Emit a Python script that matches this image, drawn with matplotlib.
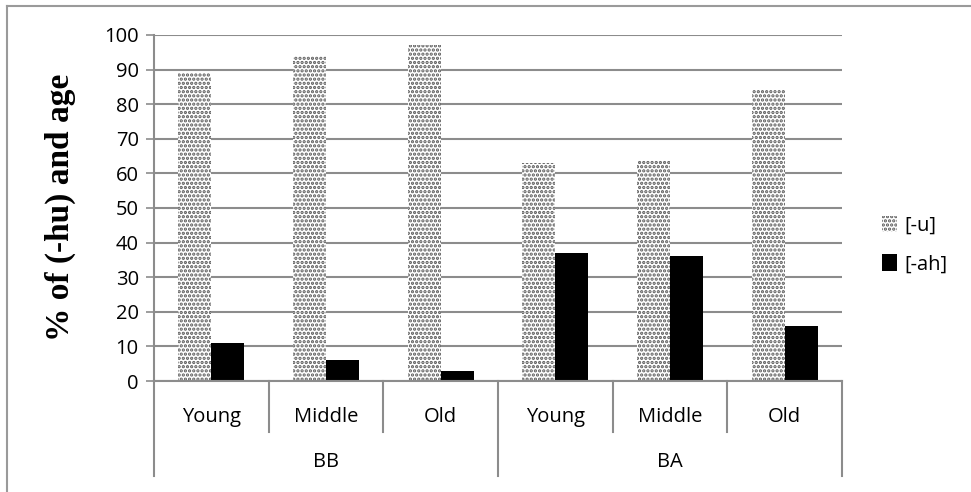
import matplotlib
matplotlib.use("Agg")
import matplotlib.pyplot as plt
import matplotlib.transforms as mtransforms
from matplotlib.lines import Line2D
import numpy

plt.rcParams['hatch.color'] = '#5a5a5a'
plt.rcParams['hatch.linewidth'] = 1.6

groups = ["BB", "BA"]
ages = ["Young", "Middle", "Old"]
u_vals = [89, 94, 97, 63, 64, 84]
ah_vals = [11, 6, 3, 37, 36, 16]
series_names = ["[-u]", "[-ah]"]

grid_col = '#8c8c8c'
tick_font = 'Open Sans'
tick_size = 14.5

fig = plt.figure(figsize=(9.71, 4.92), dpi=100)
ax = fig.add_axes([0.1586, 0.2256, 0.7085, 0.7033])

x = numpy.arange(len(u_vals))
w = 0.288
ax.bar(x - w / 2, u_vals, w, color='white', hatch='....', edgecolor='#5a5a5a',
       linewidth=0, label=series_names[0], zorder=3)
ax.bar(x + w / 2, ah_vals, w, color='black', linewidth=0,
       label=series_names[1], zorder=3)

ax.set_xlim(-0.5, len(u_vals) - 0.5)
ax.set_ylim(0, 100)
ax.set_yticks(range(0, 101, 10))
ax.yaxis.grid(True, color=grid_col, linewidth=1.5, zorder=0)
ax.set_axisbelow(True)
for s in ['top', 'right', 'bottom']:
    ax.spines[s].set_visible(False)
ax.spines['left'].set_color(grid_col)
ax.spines['left'].set_linewidth(1.5)
ax.tick_params(axis='y', length=6, width=1.2, color=grid_col, labelsize=tick_size, pad=5)
ax.tick_params(axis='x', bottom=False, labelbottom=False)
for lab in ax.get_yticklabels():
    lab.set_fontfamily(tick_font)

# two-level category axis drawn below the plot
trans = mtransforms.blended_transform_factory(ax.transData, ax.transAxes)
ax.add_line(Line2D([-0.5, len(u_vals) - 0.5], [0, 0], transform=trans,
                   color=grid_col, lw=1.5, clip_on=False, zorder=4))
for i in range(len(u_vals) + 1):
    xs = i - 0.5
    bottom = -0.275 if i % 3 == 0 else -0.147
    ax.add_line(Line2D([xs, xs], [0, bottom], transform=trans,
                       color=grid_col, lw=1.5, clip_on=False))
for i in range(len(u_vals)):
    ax.text(i, -0.104, ages[i % 3], transform=trans, ha='center', va='center',
            fontsize=tick_size, family=tick_font)
for g, name in enumerate(groups):
    ax.text(g * 3 + 1, -0.234, name, transform=trans, ha='center', va='center',
            fontsize=tick_size, family=tick_font)

fig.text(0.062, 0.579, '% of (-hu) and age', rotation=90, ha='center', va='center',
         fontsize=24, fontweight='bold', family='Liberation Serif')

leg = fig.legend(loc='center left', bbox_to_anchor=(0.89, 0.502), frameon=False,
                 handlelength=0.75, handleheight=0.9, handletextpad=0.35,
                 labelspacing=0.9, prop={'family': tick_font, 'size': tick_size})

# outer chart frame (left and top edges)
fig.add_artist(Line2D([0.0075, 0.0075], [0, 0.988], transform=fig.transFigure,
                      color='#9a9a9a', lw=1.5))
fig.add_artist(Line2D([0.0075, 1], [0.988, 0.988], transform=fig.transFigure,
                      color='#9a9a9a', lw=1.5))

plt.savefig("out.png", dpi=100)
plt.close()
